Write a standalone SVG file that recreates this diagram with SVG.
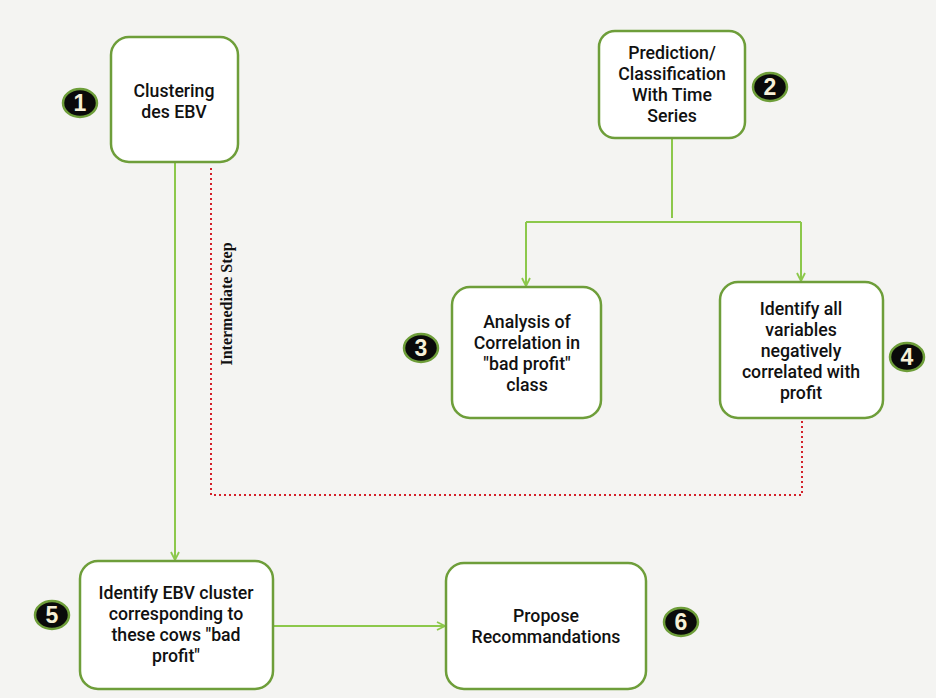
<svg xmlns="http://www.w3.org/2000/svg" width="936" height="698" viewBox="0 0 936 698">
<style>
.box{fill:#ffffff;stroke:#6e9e3a;stroke-width:2.5}
.t{font-family:Roboto,"Liberation Sans",sans-serif;font-weight:500;font-size:17.7px;fill:#111;text-anchor:middle}
.b ellipse{fill:#0a0a0a;stroke:#6e9e3a;stroke-width:2.5}
.b text{font-family:"Liberation Sans",Arial,sans-serif;font-weight:bold;font-size:23px;fill:#f6f0d8;text-anchor:middle}
.c{fill:none;stroke:#8cc84b;stroke-width:2}
.d{fill:none;stroke:#d4202a;stroke-width:2;stroke-dasharray:2 3}
</style>
<defs>
<marker id="ah" viewBox="0 0 10 10" refX="9" refY="5" markerWidth="10" markerHeight="10" markerUnits="userSpaceOnUse" orient="auto">
<path d="M1,1 L9,5 L1,9" fill="none" stroke="#8cc84b" stroke-width="1.8"/>
</marker>
</defs>
<rect width="936" height="698" fill="#f4f4f2"/>
<g id="connectors">
<path class="c" d="M175,163 V560" marker-end="url(#ah)"/>
<path class="c" d="M672,139 V218"/>
<path class="c" d="M526,222 H801"/>
<path class="c" d="M526,222 V286" marker-end="url(#ah)"/>
<path class="c" d="M801,222 V281" marker-end="url(#ah)"/>
<path class="c" d="M274,626 H445" marker-end="url(#ah)"/>
<path class="d" d="M211,168 V495 H802 V420"/>
<text x="232" y="304" transform="rotate(-90 232 304)" font-family="'Liberation Serif','Times New Roman',serif" font-weight="bold" font-size="16" fill="#111" text-anchor="middle">Intermediate Step</text>
</g>
<g id="n1"><rect class="box" x="111" y="37" width="127" height="125" rx="18"/>
<text class="t" x="174" y="97">Clustering</text><text class="t" x="174" y="118">des EBV</text></g>
<g id="n2"><rect class="box" x="599" y="31" width="146" height="107" rx="16"/>
<text class="t" x="672" y="59">Prediction/</text><text class="t" x="672" y="80">Classification</text><text class="t" x="672" y="101">With Time</text><text class="t" x="672" y="122">Series</text></g>
<g id="n3"><rect class="box" x="452" y="287" width="149" height="131" rx="18"/>
<text class="t" x="527" y="328">Analysis of</text><text class="t" x="527" y="349">Correlation in</text><text class="t" x="527" y="370">"bad profit"</text><text class="t" x="527" y="391">class</text></g>
<g id="n4"><rect class="box" x="720" y="282" width="163" height="136" rx="18"/>
<text class="t" x="801" y="315">Identify all</text><text class="t" x="801" y="336">variables</text><text class="t" x="801" y="357">negatively</text><text class="t" x="801" y="378">correlated with</text><text class="t" x="801" y="399">profit</text></g>
<g id="n5"><rect class="box" x="80" y="561" width="193" height="128" rx="18"/>
<text class="t" x="176" y="599">Identify EBV cluster</text><text class="t" x="176" y="620">corresponding to</text><text class="t" x="176" y="641">these cows "bad</text><text class="t" x="176" y="662">profit"</text></g>
<g id="n6"><rect class="box" x="446" y="563" width="200" height="126" rx="18"/>
<text class="t" x="546" y="622">Propose</text><text class="t" x="546" y="643">Recommandations</text></g>
<g id="b1" class="b"><ellipse cx="80" cy="103" rx="17" ry="14"/><text x="80" y="111">1</text></g>
<g id="b2" class="b"><ellipse cx="770" cy="87" rx="17" ry="14"/><text x="770" y="95">2</text></g>
<g id="b3" class="b"><ellipse cx="421" cy="348" rx="17" ry="14"/><text x="421" y="356">3</text></g>
<g id="b4" class="b"><ellipse cx="907" cy="357" rx="17" ry="14"/><text x="907" y="365">4</text></g>
<g id="b5" class="b"><ellipse cx="52" cy="615" rx="17" ry="14"/><text x="52" y="623">5</text></g>
<g id="b6" class="b"><ellipse cx="681" cy="622" rx="17" ry="14"/><text x="681" y="630">6</text></g>
</svg>
